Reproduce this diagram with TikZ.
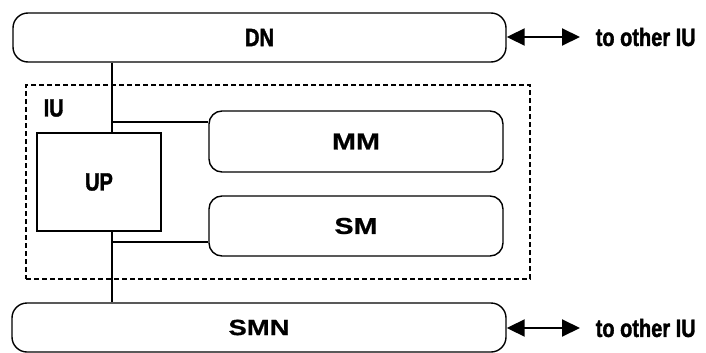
\documentclass[tikz,border=0pt]{standalone}
\usepackage{fontspec}
\setmainfont{Liberation Sans}
\newfontfamily\widefont{Liberation Sans Bold}[FakeStretch=1.25,FakeBold=0.8]
\newfontfamily\narrowfont{Liberation Sans Bold}[FakeStretch=0.8,FakeBold=1.5]
\usetikzlibrary{arrows.meta}
\begin{document}
\begin{tikzpicture}[x=1pt,y=-1pt,
  line width=1.4pt,
  bus/.style={draw,rounded corners=15pt,inner sep=0pt,font=\narrowfont\fontsize{25}{29}\selectfont},
  busw/.style={bus,font=\widefont\fontsize{22}{26}\selectfont},
  mem/.style={draw,rounded corners=13pt,inner sep=0pt,minimum width=294pt,font=\widefont\fontsize{23}{27}\selectfont},
  proc/.style={draw,inner sep=0pt,minimum width=124pt,minimum height=98pt,font=\narrowfont\fontsize{25}{29}\selectfont},
  frame/.style={draw,dash pattern=on 5pt off 3pt,line width=1.2pt,inner sep=0pt,minimum width=504pt,minimum height=194pt},
  lbl/.style={inner sep=0pt,font=\narrowfont\fontsize{25}{29}\selectfont},
  link/.style={draw,line width=1.4pt},
  dbl/.style={draw,line width=2pt,{Triangle[length=18pt,width=17pt]}-{Triangle[length=18pt,width=17pt]}}
]
\useasboundingbox (0,0) rectangle (706,353);

\node[frame] (iu) at (278,182) {};
\node[lbl,anchor=west] (iulbl) at (43,108) {IU};

\node[bus,minimum width=493pt,minimum height=49pt] (dn) at (259.5,37.5) {DN};
\node[busw,minimum width=494pt,minimum height=49pt] (smn) at (259,327.5) {SMN};

\node[mem,minimum height=61pt] (mm) at (356,141.5) {MM};
\node[mem,minimum height=60pt] (sm) at (356,226) {SM};
\node[proc] (up) at (99,182) {UP};

\coordinate (bx) at (112,0);
\coordinate (jm) at (112,122);
\coordinate (js) at (112,242);

\draw[link] (dn.south -| bx) -- (up.north -| bx);
\draw[link] (jm) -- (jm -| mm.west);
\draw[link] (up.south -| bx) -- (smn.north -| bx);
\draw[link] (js) -- (js -| sm.west);

\coordinate (e1) at (580,37);
\coordinate (e2) at (580,328);
\draw[dbl] (dn.east |- e1) -- (e1);
\draw[dbl] (smn.east |- e2) -- (e2);
\node[lbl,anchor=west] (t1) at (595,37) {to other IU};
\node[lbl,anchor=west] (t2) at (595,328) {to other IU};
\end{tikzpicture}
\end{document}
